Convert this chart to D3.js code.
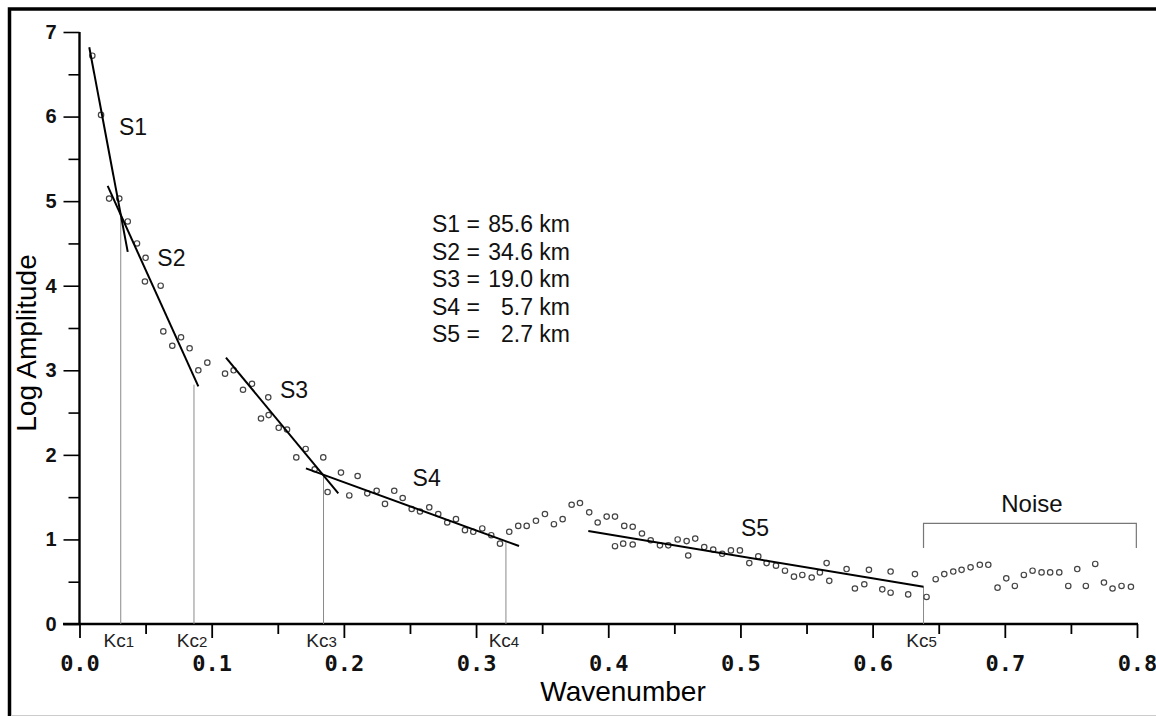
<!DOCTYPE html>
<html>
<head>
<meta charset="utf-8">
<script src="https://cdn.jsdelivr.net/npm/d3@7"></script>
<style>
  body { margin: 0; background: #fff; }
  text { font-family: "Liberation Sans", Arial, sans-serif; }
</style>
</head>
<body>
<svg id="chart" width="1156" height="716"></svg>
<script>
// spectrum points
var waveNumber = [0.0097, 0.0163, 0.0224, 0.0301, 0.0365, 0.0435, 0.0500, 0.0495, 0.0614, 0.0634,
  0.0702, 0.0768, 0.0833, 0.0899, 0.0967, 0.1101, 0.1166, 0.1237, 0.1305, 0.1373,
  0.1431, 0.1428, 0.1507, 0.1570, 0.1640, 0.1711, 0.1779, 0.1844, 0.1877, 0.1978,
  0.2041, 0.2104, 0.2177, 0.2248, 0.2311, 0.2381, 0.2445, 0.2513, 0.2576, 0.2646,
  0.2714, 0.2782, 0.2848, 0.2916, 0.2979, 0.3047, 0.3115, 0.3181, 0.3251, 0.3319,
  0.3383, 0.3453, 0.3521, 0.3589, 0.3655, 0.3723, 0.3786, 0.3856, 0.3920, 0.3988,
  0.4051, 0.4051, 0.4113, 0.4121, 0.4185, 0.4185, 0.4255, 0.4321, 0.4391, 0.4454,
  0.4525, 0.4593, 0.4605, 0.4658, 0.4726, 0.4794, 0.4862, 0.4928, 0.4996, 0.5067,
  0.5135, 0.5198, 0.5269, 0.5337, 0.5405, 0.5468, 0.5539, 0.5601, 0.5652, 0.5672,
  0.5803, 0.5866, 0.5937, 0.5972, 0.6073, 0.6136, 0.6136, 0.6269, 0.6320, 0.6408,
  0.6477, 0.6542, 0.6610, 0.6673, 0.6741, 0.6811, 0.6875, 0.6945, 0.7011, 0.7076,
  0.7144, 0.7210, 0.7278, 0.7343, 0.7412, 0.7480, 0.7548, 0.7613, 0.7684, 0.7750,
  0.7815, 0.7883, 0.7954];
var logAmp = [6.72, 6.02, 5.03, 5.03, 4.76, 4.50, 4.33, 4.05, 4.00, 3.46,
  3.29, 3.39, 3.26, 3.00, 3.09, 2.96, 3.00, 2.77, 2.84, 2.43,
  2.47, 2.68, 2.32, 2.30, 1.97, 2.07, 1.83, 1.97, 1.56, 1.79,
  1.52, 1.75, 1.545, 1.575, 1.42, 1.575, 1.49, 1.36, 1.33, 1.38,
  1.30, 1.20, 1.24, 1.11, 1.09, 1.13, 1.05, 0.95, 1.09, 1.16,
  1.16, 1.22, 1.30, 1.18, 1.24, 1.41, 1.43, 1.32, 1.20, 1.27,
  1.27, 0.92, 0.95, 1.16, 1.15, 0.94, 1.07, 0.99, 0.93, 0.93,
  1.00, 0.98, 0.81, 1.01, 0.91, 0.88, 0.83, 0.87, 0.87, 0.72,
  0.80, 0.72, 0.69, 0.63, 0.56, 0.58, 0.55, 0.61, 0.72, 0.51,
  0.65, 0.42, 0.47, 0.64, 0.41, 0.37, 0.62, 0.35, 0.59, 0.32,
  0.53, 0.59, 0.62, 0.64, 0.67, 0.70, 0.70, 0.43, 0.54, 0.45,
  0.58, 0.63, 0.61, 0.61, 0.61, 0.45, 0.65, 0.45, 0.71, 0.49,
  0.42, 0.45, 0.44];

// straight-line fits S1..S5 (start and end)
var fitNames = ['S1', 'S2', 'S3', 'S4', 'S5'];
var fitX0 = [0.0074, 0.0213, 0.1108, 0.1713, 0.3849];
var fitY0 = [6.82, 5.18, 3.15, 1.84, 1.10];
var fitX1 = [0.0365, 0.0899, 0.1958, 0.3325, 0.6385];
var fitY1 = [4.40, 2.81, 1.545, 0.922, 0.44];
var fitLabelX = [0.0299, 0.0589, 0.1517, 0.2520, 0.5004];
var fitLabelY = [5.78, 4.23, 2.67, 1.63, 1.04];

// crossover wavenumbers
var kcNames = ['1', '2', '3', '4', '5'];
var kcX = [0.0312, 0.0866, 0.1846, 0.3226, 0.6385];
var kcY = [4.80, 2.83, 1.76, 0.97, 0.44];

// depths
var depthValues = ['85.6', '34.6', '19.0', '5.7', '2.7'];

// noise bracket
var noiseX = [0.6385, 0.7995];
var noiseTop = 1.19, noiseFoot = 0.90;

var xMajor = [0, 0.1, 0.2, 0.3, 0.4, 0.5, 0.6, 0.7, 0.8];
var xMinor = [0.05, 0.15, 0.25, 0.35, 0.45, 0.55, 0.65, 0.75];
var yMajor = [0, 1, 2, 3, 4, 5, 6, 7];
var yMinor = [0.5, 1.5, 2.5, 3.5, 4.5, 5.5, 6.5];

var svg = d3.select('#chart');

var x = d3.scaleLinear().domain([0, 0.8]).range([79.5, 1137]);
var y = d3.scaleLinear().domain([0, 7]).range([624, 32]);

// outer frame
svg.append('path')
    .attr('d', 'M9.5,716V9H1156')
    .attr('fill', 'none')
    .attr('stroke', '#000')
    .attr('stroke-width', 3.5);
svg.append('line')
    .attr('x1', 11).attr('x2', 1156).attr('y1', 715.5).attr('y2', 715.5)
    .attr('stroke', '#ccc').attr('stroke-width', 1);

// x axis
var xAxis = svg.append('g')
    .attr('class', 'x_axis')
    .attr('transform', 'translate(0,624)')
    .call(d3.axisBottom(x).tickValues(xMajor).tickSize(14).tickPadding(17)
        .tickFormat(d3.format('.1f')));
xAxis.select('.domain').remove();
xAxis.selectAll('line').attr('stroke-width', 1.8);
xAxis.selectAll('text')
    .style('font-family', '"DejaVu Sans Mono", monospace')
    .style('font-weight', 'bold')
    .style('font-size', '22px')
    .attr('fill', '#111');

var xAxisMinor = svg.append('g')
    .attr('transform', 'translate(0,624)')
    .call(d3.axisBottom(x).tickValues(xMinor).tickSize(10).tickFormat(''));
xAxisMinor.select('.domain').remove();
xAxisMinor.selectAll('line').attr('stroke-width', 1.8);

// y axis
var yAxis = svg.append('g')
    .attr('class', 'y_axis')
    .attr('transform', 'translate(79.5,0)')
    .call(d3.axisLeft(y).tickValues(yMajor).tickSize(16).tickPadding(7)
        .tickFormat(d3.format('d')));
yAxis.select('.domain').remove();
yAxis.selectAll('line').attr('stroke-width', 1.6);
yAxis.selectAll('text')
    .style('font-weight', 'bold')
    .style('font-size', '20px')
    .attr('fill', '#111');

var yAxisMinor = svg.append('g')
    .attr('transform', 'translate(79.5,0)')
    .call(d3.axisLeft(y).tickValues(yMinor).tickSize(11).tickFormat(''));
yAxisMinor.select('.domain').remove();
yAxisMinor.selectAll('line').attr('stroke-width', 1.6);

// axis lines
svg.append('line')
    .attr('x1', 63).attr('x2', x(0.8) + 1).attr('y1', y(0)).attr('y2', y(0))
    .attr('stroke', '#000').attr('stroke-width', 2.4);
svg.append('line')
    .attr('x1', x(0)).attr('x2', x(0)).attr('y1', y(7)).attr('y2', y(0))
    .attr('stroke', '#000').attr('stroke-width', 2.4);

// axis titles
svg.append('text')
    .attr('transform', 'translate(36,343) rotate(-90)')
    .attr('text-anchor', 'middle')
    .style('font-size', '28px')
    .text('Log Amplitude');
svg.append('text')
    .attr('x', 623).attr('y', 701)
    .attr('text-anchor', 'middle')
    .style('font-size', '28px')
    .text('Wavenumber');

// crossover lines
svg.selectAll('.kc_line')
    .data(kcX)
    .enter()
    .append('line')
    .attr('class', 'kc_line')
    .attr('x1', function(d) { return x(d); })
    .attr('x2', function(d) { return x(d); })
    .attr('y1', y(0))
    .attr('y2', function(d, i) { return y(kcY[i]); })
    .attr('stroke', '#8a8a8a')
    .attr('stroke-width', 1);

var kcLabel = svg.selectAll('.kc_label')
    .data(kcX)
    .enter()
    .append('text')
    .attr('class', 'kc_label')
    .attr('x', function(d) { return x(d) - 2; })
    .attr('y', 647)
    .attr('text-anchor', 'middle')
    .style('font-size', '19px')
    .attr('fill', '#222');
kcLabel.append('tspan').text('Kc');
kcLabel.append('tspan')
    .style('font-size', '15px')
    .text(function(d, i) { return kcNames[i]; });

// spectrum points
svg.selectAll('.pt')
    .data(waveNumber)
    .enter()
    .append('circle')
    .attr('class', 'pt')
    .attr('cx', function(d) { return x(d); })
    .attr('cy', function(d, i) { return y(logAmp[i]); })
    .attr('r', 2.7)
    .attr('fill', '#fff')
    .attr('stroke', '#444')
    .attr('stroke-width', 1.2);

// fitted segments
svg.selectAll('.fit')
    .data(fitNames)
    .enter()
    .append('line')
    .attr('class', 'fit')
    .attr('x1', function(d, i) { return x(fitX0[i]); })
    .attr('y1', function(d, i) { return y(fitY0[i]); })
    .attr('x2', function(d, i) { return x(fitX1[i]); })
    .attr('y2', function(d, i) { return y(fitY1[i]); })
    .attr('stroke', '#000')
    .attr('stroke-width', 2);

svg.selectAll('.fit_label')
    .data(fitNames)
    .enter()
    .append('text')
    .attr('class', 'fit_label')
    .attr('x', function(d, i) { return x(fitLabelX[i]); })
    .attr('y', function(d, i) { return y(fitLabelY[i]); })
    .style('font-size', '23px')
    .attr('fill', '#111')
    .text(function(d) { return d; });

// depth list
var depth = svg.append('g').attr('class', 'depths');
depth.selectAll('.dname')
    .data(fitNames)
    .enter()
    .append('text')
    .attr('x', 432)
    .attr('y', function(d, i) { return 232 + i * 27.5; })
    .style('font-size', '23px')
    .attr('fill', '#111')
    .text(function(d) { return d + ' ='; });
depth.selectAll('.dval')
    .data(depthValues)
    .enter()
    .append('text')
    .attr('x', 570)
    .attr('y', function(d, i) { return 232 + i * 27.5; })
    .attr('text-anchor', 'end')
    .style('font-size', '23px')
    .attr('fill', '#111')
    .text(function(d) { return d + ' km'; });

// noise bracket
svg.append('path')
    .attr('d', 'M' + x(noiseX[0]) + ',' + y(noiseFoot) + 'V' + y(noiseTop) +
        'H' + x(noiseX[1]) + 'V' + y(noiseFoot))
    .attr('fill', 'none')
    .attr('stroke', '#777')
    .attr('stroke-width', 1.2);
svg.append('text')
    .attr('x', (x(noiseX[0]) + x(noiseX[1])) / 2 + 2)
    .attr('y', 512)
    .attr('text-anchor', 'middle')
    .style('font-size', '24px')
    .attr('fill', '#111')
    .text('Noise');
</script>
</body>
</html>
